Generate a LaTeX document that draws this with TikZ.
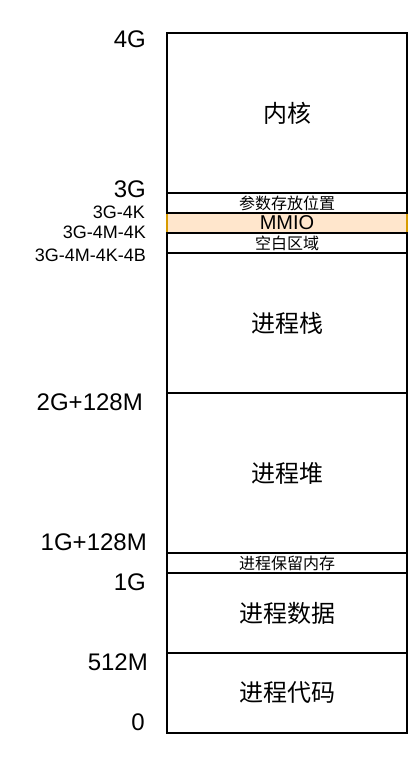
\documentclass[tikz,border=0pt]{standalone}
\usepackage{fontspec}
\setmainfont{Liberation Sans}
\newfontfamily\cjk{Noto Sans CJK SC}
\usepackage{tikz}
\usetikzlibrary{positioning}

\definecolor{mmiofill}{HTML}{FFE6CC}
\definecolor{mmioline}{HTML}{D79B00}

\begin{document}
\begin{tikzpicture}[
    x=1pt, y=-1pt,
    node distance = 0pt,
    region/.style = {rectangle, draw, line width=2pt, minimum width=240pt, inner sep=0pt, outer sep=0pt, align=center},
    bigtext/.style = {font=\cjk\fontsize{24}{28}\selectfont},
    smalltext/.style = {font=\cjk\fontsize{16}{18}\selectfont},
    addr/.style = {anchor=base east, inner sep=0pt, font=\fontsize{24}{28}\selectfont},
    subaddr/.style = {anchor=base east, inner sep=0pt, font=\fontsize{18}{21}\selectfont}
]
\useasboundingbox (0,0) rectangle (418,764);

% MMIO first, so the black lines of its neighbours sit on top
\node[region, draw=mmioline, fill=mmiofill, minimum height=20pt, anchor=north west,
      font=\fontsize{20}{22}\selectfont] (mmio) at (167,213) {MMIO};

% Regions, top down
\node[region, bigtext, minimum height=160pt, anchor=north west] (kernel) at (167,33) {内核};
\node[region, smalltext, minimum height=20pt, above=of mmio] (param) {参数存放位置};
\node[region, smalltext, minimum height=20pt, below=of mmio] (blank) {空白区域};
\node[region, bigtext, minimum height=140pt, below=of blank] (stack) {进程栈};
\node[region, bigtext, minimum height=160pt, below=of stack] (heap) {进程堆};
\node[region, smalltext, minimum height=20pt, below=of heap] (reserved) {进程保留内存};
\node[region, bigtext, minimum height=80pt, below=of reserved] (data) {进程数据};
\node[region, bigtext, minimum height=80pt, below=of data] (code) {进程代码};

% Address labels
\node[addr] (a4g) at (146,47) {4G};
\node[addr] (a3g) at (146,197) {3G};
\node[subaddr] (a3g4k) at (145,218) {3G-4K};
\node[subaddr] (a3g4m4k) at (146,238) {3G-4M-4K};
\node[subaddr] (a3g4m4k4b) at (146,261) {3G-4M-4K-4B};
\node[addr] (a2g) at (143,410) {2G+128M};
\node[addr] (a1g128) at (147,550) {1G+128M};
\node[addr] (a1g) at (146,590) {1G};
\node[addr] (a512) at (148,670) {512M};
\node[addr] (a0) at (145,730) {0};

\end{tikzpicture}
\end{document}
